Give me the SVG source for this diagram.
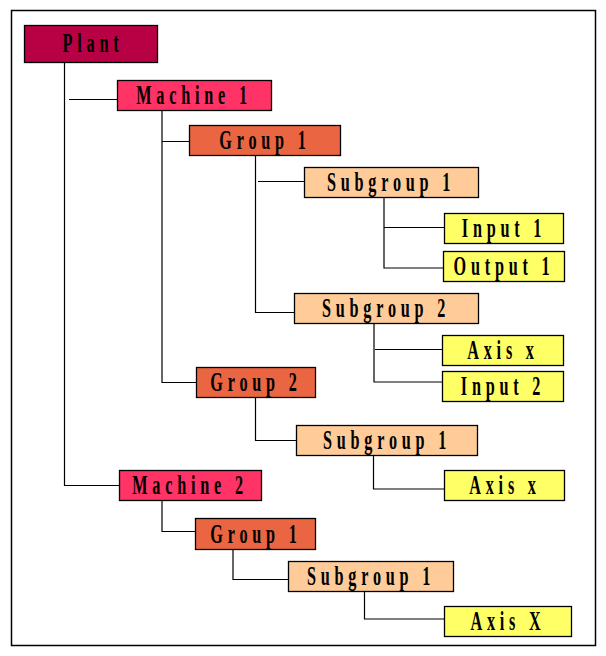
<svg xmlns="http://www.w3.org/2000/svg" width="606" height="656" viewBox="0 0 606 656">
<style>
.box{stroke:#000;stroke-width:1.3}
.plant{fill:#B80045}
.mach{fill:#FF3366}
.grp{fill:#EA6541}
.sub{fill:#FFCC99}
.leaf{fill:#FFFF66}
.lbl{font-family:"Liberation Serif","Times New Roman",serif;font-weight:bold;font-size:27px;letter-spacing:8px;fill:#000;text-anchor:middle}
#connectors path{fill:none;stroke:#000;stroke-width:1.2}
</style>
<rect x="11.5" y="10.5" width="584" height="635" fill="#fff" stroke="#000" stroke-width="1.5"/>
<g id="connectors">
<path d="M64.5 62V485.5H119M69 99.5H117"/>
<path d="M162 110V382.5H196M162 141.5H189"/>
<path d="M255.5 155V312.5H294M258 181.5H304"/>
<path d="M384 197V268H443M384 227.5H444"/>
<path d="M374 323V382H442M375 349.5H442"/>
<path d="M255.5 397V440.5H296"/>
<path d="M373.5 455V489H444"/>
<path d="M162 500V531.5H196"/>
<path d="M233 549V579.5H288"/>
<path d="M364.5 591V619H444"/>
</g>
<g id="plant"><rect class="box plant" x="24.5" y="25.5" width="133" height="37"/><text class="lbl" transform="translate(93,52) scale(0.6,1)">Plant</text></g>
<g id="machine1"><rect class="box mach" x="117.5" y="80.5" width="154" height="30"/><text class="lbl" transform="translate(194,104) scale(0.6,1)">Machine 1</text></g>
<g id="m1-group1"><rect class="box grp" x="189.5" y="125.5" width="151" height="30"/><text class="lbl" transform="translate(265,149) scale(0.6,1)">Group 1</text></g>
<g id="m1-g1-subgroup1"><rect class="box sub" x="304.5" y="167.5" width="174" height="30"/><text class="lbl" transform="translate(391,191) scale(0.6,1)">Subgroup 1</text></g>
<g id="input1"><rect class="box leaf" x="444.5" y="213.5" width="119" height="30"/><text class="lbl" transform="translate(504,237) scale(0.6,1)">Input 1</text></g>
<g id="output1"><rect class="box leaf" x="443.5" y="251.5" width="121" height="30"/><text class="lbl" transform="translate(504,275) scale(0.6,1)">Output 1</text></g>
<g id="m1-g1-subgroup2"><rect class="box sub" x="294.5" y="293.5" width="184" height="30"/><text class="lbl" transform="translate(386,317) scale(0.6,1)">Subgroup 2</text></g>
<g id="axisx1"><rect class="box leaf" x="442.5" y="335.5" width="121" height="30"/><text class="lbl" transform="translate(503,359) scale(0.6,1)">Axis x</text></g>
<g id="input2"><rect class="box leaf" x="442.5" y="371.5" width="121" height="30"/><text class="lbl" transform="translate(503,395) scale(0.6,1)">Input 2</text></g>
<g id="m1-group2"><rect class="box grp" x="196.5" y="367.5" width="119" height="30"/><text class="lbl" transform="translate(256,391) scale(0.6,1)">Group 2</text></g>
<g id="m1-g2-subgroup1"><rect class="box sub" x="296.5" y="425.5" width="181" height="30"/><text class="lbl" transform="translate(387,449) scale(0.6,1)">Subgroup 1</text></g>
<g id="axisx2"><rect class="box leaf" x="444.5" y="470.5" width="120" height="30"/><text class="lbl" transform="translate(505,494) scale(0.6,1)">Axis x</text></g>
<g id="machine2"><rect class="box mach" x="119.5" y="470.5" width="142" height="30"/><text class="lbl" transform="translate(190,494) scale(0.6,1)">Machine 2</text></g>
<g id="m2-group1"><rect class="box grp" x="195.5" y="518.5" width="120" height="31"/><text class="lbl" transform="translate(256,543) scale(0.6,1)">Group 1</text></g>
<g id="m2-g1-subgroup1"><rect class="box sub" x="288.5" y="561.5" width="165" height="30"/><text class="lbl" transform="translate(371,585) scale(0.6,1)">Subgroup 1</text></g>
<g id="axisX"><rect class="box leaf" x="444.5" y="606.5" width="127" height="30"/><text class="lbl" transform="translate(508,630) scale(0.6,1)">Axis X</text></g>
</svg>
